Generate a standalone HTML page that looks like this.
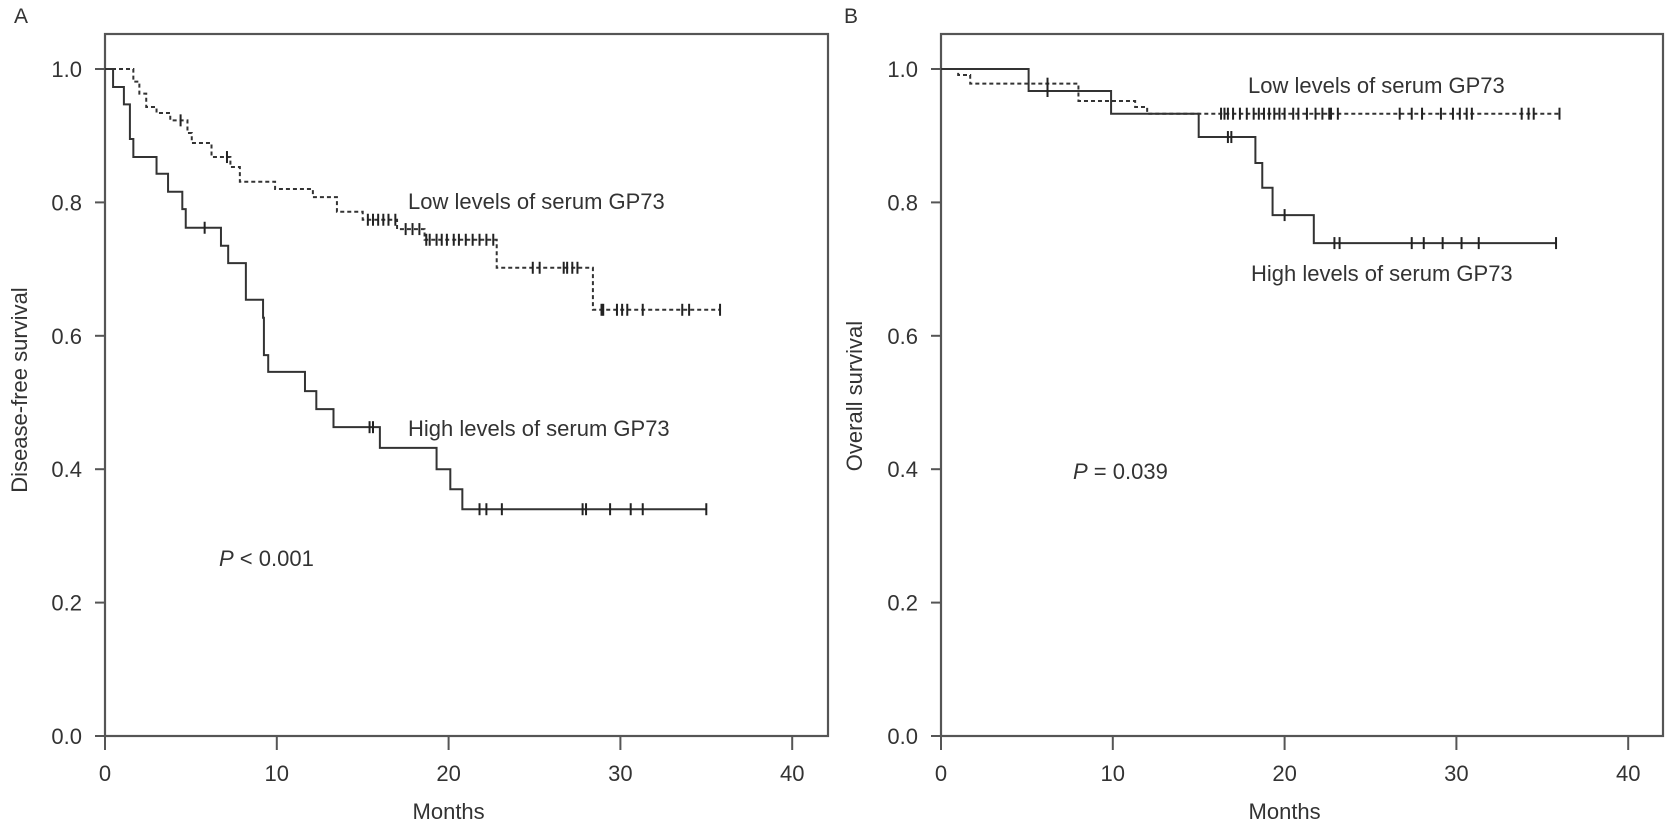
<!DOCTYPE html>
<html><head><meta charset="utf-8"><style>
html,body{margin:0;padding:0;background:#fff;}
svg{display:block;font-family:"Liberation Sans",Arial,sans-serif;}
</style></head><body>
<svg id="chart" width="1677" height="827" viewBox="0 0 1677 827">
<g id="root"></g>
</svg>
<script>
// ---- Panel A data (Disease-free survival) ----
const aHighTimes = [0, 0.47, 1.1, 1.45, 1.65, 3.0, 3.67, 4.5, 4.7, 6.75, 7.17, 8.2, 9.2, 9.25, 9.5, 11.64, 12.3, 13.3, 16.0, 19.3, 20.1, 20.8];
const aHighSurv  = [1.0, 0.973, 0.947, 0.895, 0.868, 0.843, 0.816, 0.790, 0.762, 0.735, 0.709, 0.654, 0.627, 0.571, 0.546, 0.517, 0.490, 0.463, 0.432, 0.400, 0.370, 0.340];
const aHighCensor = [5.8, 15.4, 15.6, 21.8, 22.2, 23.1, 27.8, 28.0, 29.4, 30.6, 31.3, 35.0];
const aHighEnd = 35.0;
const aLowTimes = [0, 1.65, 2.0, 2.4, 3.0, 3.8, 4.8, 5.05, 6.2, 7.3, 7.85, 9.9, 12.1, 13.5, 15.0, 17.0, 18.6, 22.8, 28.4];
const aLowSurv  = [1.0, 0.981, 0.963, 0.943, 0.934, 0.923, 0.904, 0.889, 0.868, 0.853, 0.831, 0.820, 0.808, 0.786, 0.774, 0.760, 0.744, 0.702, 0.639];
const aLowCensor = [4.4, 7.1, 15.3, 15.6, 15.9, 16.2, 16.5, 16.9, 17.5, 17.9, 18.3, 18.7, 18.9, 19.3, 19.6, 19.9, 20.3, 20.6, 21.0, 21.4, 21.8, 22.2, 22.6, 24.9, 25.3, 26.7, 26.9, 27.2, 27.5, 28.9, 29.0, 29.8, 30.1, 30.4, 31.3, 33.6, 34.0, 35.8];
const aLowEnd = 35.8;
// ---- Panel B data (Overall survival) ----
const bHighTimes = [0, 5.1, 9.9, 15.0, 18.3, 18.7, 19.3, 21.7];
const bHighSurv  = [1.0, 0.967, 0.933, 0.898, 0.859, 0.822, 0.781, 0.739];
const bHighCensor = [6.2, 16.7, 16.9, 20.0, 22.9, 23.2, 27.4, 28.1, 29.2, 30.3, 31.3, 35.8];
const bHighEnd = 35.8;
const bLowTimes = [0, 1.0, 1.7, 8.0, 11.3, 12.0];
const bLowSurv  = [1.0, 0.991, 0.978, 0.952, 0.943, 0.933];
const bLowCensor = [6.2, 16.3, 16.5, 16.7, 17.0, 17.4, 17.8, 18.2, 18.5, 18.8, 19.1, 19.4, 19.7, 20.0, 20.5, 20.8, 21.3, 21.8, 22.2, 22.6, 22.7, 23.1, 26.7, 27.4, 28.0, 29.1, 29.8, 30.2, 30.6, 30.9, 33.8, 34.2, 34.5, 36.0];
const bLowEnd = 36.0;
// ---- Axis ticks ----
const xTicks = [0, 10, 20, 30, 40];
const yTicks = [0.0, 0.2, 0.4, 0.6, 0.8, 1.0];
const yTickLabels = ["0.0", "0.2", "0.4", "0.6", "0.8", "1.0"];

const NS = "http://www.w3.org/2000/svg";
const root = document.getElementById('root');
function mk(tag, attrs, parent, text){
  const e = document.createElementNS(NS, tag);
  for (const k in attrs) e.setAttribute(k, attrs[k]);
  if (text !== undefined) e.textContent = text;
  (parent || root).appendChild(e);
  return e;
}
const Y0 = 736, YH = 667, PXM = 17.18;
function sy(v){ return Y0 - YH * v; }

function survAt(times, surv, t){
  let s = surv[0];
  for (let i = 0; i < times.length; i++) if (times[i] <= t) s = surv[i];
  return s;
}

function panel(cfg){
  const g = mk('g', {});
  
  
  const x0 = cfg.x0;
  const sx = t => x0 + PXM * t;
  // frame
  const fr = mk('rect', {x: x0, y: 34, width: cfg.right - x0, height: Y0 - 34, fill: 'none', stroke: '#555', 'stroke-width': 2.2}, g);
  
  
  // x ticks
  xTicks.forEach(t => {
    const tk = mk('line', {x1: sx(t), x2: sx(t), y1: Y0, y2: 750, stroke: '#555', 'stroke-width': 2}, g);
    
    
    const lb = mk('text', {x: sx(t), y: 781, 'text-anchor': 'middle', 'font-size': 22, fill: '#333'}, g, String(t));
    
    
  });
  yTicks.forEach((v, i) => {
    const tk = mk('line', {x1: x0 - 10, x2: x0, y1: sy(v), y2: sy(v), stroke: '#555', 'stroke-width': 2}, g);
    
    
    const lb = mk('text', {x: x0 - 23, y: sy(v) + 8, 'text-anchor': 'end', 'font-size': 22, fill: '#333'}, g, yTickLabels[i]);
    
    
  });
  const xt = mk('text', {x: sx(20), y: 819, 'text-anchor': 'middle', 'font-size': 22, fill: '#333'}, g, 'Months');
  
  
  const yt = mk('text', {x: cfg.ytx, y: cfg.yty, 'text-anchor': 'middle', 'font-size': 22, fill: '#333', transform: 'rotate(-90 ' + cfg.ytx + ' ' + cfg.yty + ')'}, g, cfg.ytitle);
  
  
  const pl = mk('text', {x: cfg.plx, y: 23, 'font-size': 21, fill: '#333'}, g, cfg.letter);
  
  

  cfg.series.forEach(s => {
    let d = 'M' + sx(s.times[0]) + ' ' + sy(s.surv[0]);
    for (let i = 1; i < s.times.length; i++) {
      d += ' H' + sx(s.times[i]) + ' V' + sy(s.surv[i]);
    }
    d += ' H' + sx(s.end);
    const p = mk('path', {d: d, fill: 'none', stroke: '#333', 'stroke-width': 2, 'stroke-dasharray': s.dashed ? '4 3' : 'none'}, g);
    
    
    s.censor.forEach(t => {
      const cx = sx(t), cy = sy(survAt(s.times, s.surv, t));
      const c = mk('line', {x1: cx, x2: cx, y1: cy - 6, y2: cy + 6, stroke: '#222', 'stroke-width': 2}, g);
      
      
    });
  });
  cfg.labels.forEach(l => {
    const t = mk('text', {x: l.x, y: l.y, 'font-size': 22, fill: '#333'}, g);
    
    
    if (l.p) {
      mk('tspan', {'font-style': 'italic'}, t, 'P');
      mk('tspan', {}, t, l.text);
    } else t.textContent = l.text;
  });
}

panel({name: 'panel-a-disease-free-survival', letter: 'A', plx: 14, x0: 105, right: 828, ytitle: 'Disease-free survival', ytx: 27, yty: 390,
  series: [
    {name: 'high-gp73', times: aHighTimes, surv: aHighSurv, censor: aHighCensor, end: aHighEnd, dashed: false},
    {name: 'low-gp73', times: aLowTimes, surv: aLowSurv, censor: aLowCensor, end: aLowEnd, dashed: true}
  ],
  labels: [
    {name: 'low-levels-label', x: 408, y: 209, text: 'Low levels of serum GP73'},
    {name: 'high-levels-label', x: 408, y: 436, text: 'High levels of serum GP73'},
    {name: 'p-value-label', x: 219, y: 566, text: ' < 0.001', p: true}
  ]});
panel({name: 'panel-b-overall-survival', letter: 'B', plx: 844, x0: 941, right: 1663, ytitle: 'Overall survival', ytx: 862, yty: 396,
  series: [
    {name: 'high-gp73', times: bHighTimes, surv: bHighSurv, censor: bHighCensor, end: bHighEnd, dashed: false},
    {name: 'low-gp73', times: bLowTimes, surv: bLowSurv, censor: bLowCensor, end: bLowEnd, dashed: true}
  ],
  labels: [
    {name: 'low-levels-label', x: 1248, y: 93, text: 'Low levels of serum GP73'},
    {name: 'high-levels-label', x: 1251, y: 281, text: 'High levels of serum GP73'},
    {name: 'p-value-label', x: 1073, y: 479, text: ' = 0.039', p: true}
  ]});
</script>
</body></html>
